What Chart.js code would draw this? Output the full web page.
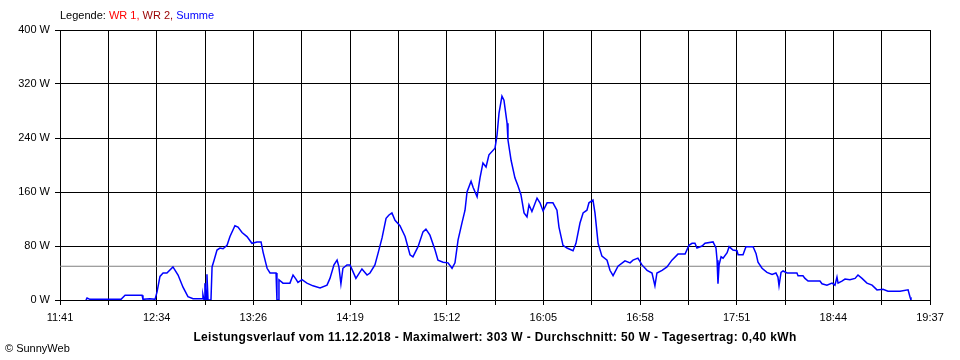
<!DOCTYPE html>
<html>
<head>
<meta charset="utf-8">
<script src="https://cdn.jsdelivr.net/npm/chart.js@4.4.0/dist/chart.umd.min.js"></script>
<style>
  body { margin: 0; background: #fff; }
  #wrap { position: relative; width: 960px; height: 360px; font-family: "Liberation Sans", Arial, sans-serif; font-size: 11px; color: #000; }
  #chart-box { position: absolute; left: 0; top: 0; width: 960px; height: 360px; }
  .legend { position: absolute; left: 60px; top: 9px; }
  .title { position: absolute; left: 60px; width: 870px; top: 330px; text-align: center; font-weight: bold; font-size: 12px; letter-spacing: 0.35px; }
  .copy { position: absolute; left: 5px; top: 342px; }
</style>
</head>
<body>
<div id="wrap">
  <div id="chart-box"><canvas id="powerChart"></canvas></div>
  <div class="legend">Legende: <span style="color:#ff0000">WR 1,</span> <span style="color:#990000">WR 2,</span> <span style="color:#0000ff">Summe</span></div>
  <div class="title">Leistungsverlauf vom 11.12.2018 - Maximalwert: 303 W - Durchschnitt: 50 W - Tagesertrag: 0,40 kWh</div>
  <div class="copy">© SunnyWeb</div>
</div>
<script>
// x axis: minutes after 11:41, full day window is 476 min (11:41 - 19:37)
const timeLabels = ['11:41', '12:34', '13:26', '14:19', '15:12', '16:05', '16:58', '17:51', '18:44', '19:37'];
const spanMinutes = 476;
const yTicks = [0, 80, 160, 240, 320, 400];
const averageWatt = 50;

// Summe (W) sampled off the plot
const minutes = [
  14.2, 14.8, 16.4, 21.9, 33.4, 35.6, 44.9, 45.4, 49.2, 52.0,
  53.1, 54.7, 56.4, 58.5, 61.8, 64.6, 67.3, 70.0, 72.8, 77.7,
  78.2, 78.8, 79.3, 79.9, 80.4, 81.0, 82.6, 83.2, 84.3, 85.9,
  87.5, 89.2, 91.4, 93.0, 95.7, 97.4, 99.6, 102.3, 105.0, 107.8,
  110.0, 111.1, 113.3, 114.9, 118.2, 118.7, 119.3, 119.8, 122.0, 125.8,
  127.5, 129.1, 130.2, 132.4, 135.1, 138.4, 142.3, 146.1, 147.7, 149.9,
  151.6, 152.6, 153.7, 154.8, 157.0, 158.7, 160.3, 161.9, 165.2, 168.0,
  169.6, 172.3, 174.0, 176.2, 178.4, 180.0, 181.6, 183.3, 186.0, 188.8,
  191.5, 193.1, 195.9, 198.6, 200.2, 202.4, 205.2, 206.8, 209.6, 212.3,
  214.5, 216.1, 217.8, 219.9, 221.6, 222.7, 224.9, 226.0, 228.2, 229.8,
  231.4, 233.1, 234.7, 238.0, 239.1, 240.2, 241.8, 242.9, 244.6, 245.1,
  246.8, 248.9, 250.6, 252.2, 253.9, 255.5, 256.6, 258.2, 261.0, 262.6,
  264.3, 266.5, 269.7, 271.9, 273.0, 275.2, 277.4, 280.7, 282.3, 284.5,
  286.2, 288.3, 289.4, 291.6, 292.7, 294.4, 296.5, 299.3, 300.9, 302.6,
  305.3, 309.1, 311.9, 313.5, 316.2, 318.4, 321.2, 323.9, 325.5, 326.6,
  329.4, 332.1, 334.8, 338.1, 342.0, 344.1, 345.8, 347.4, 348.5, 351.3,
  352.9, 357.3, 358.9, 359.5, 360.0, 360.6, 361.7, 362.8, 365.0, 366.1,
  368.2, 370.4, 371.0, 373.7, 375.3, 379.2, 380.8, 381.9, 384.1, 386.8,
  389.6, 391.7, 392.8, 393.4, 394.5, 395.6, 397.8, 403.2, 403.8, 406.5,
  407.6, 409.3, 415.8, 416.9, 419.6, 422.4, 424.0, 425.1, 425.7, 427.8,
  429.5, 432.2, 435.0, 436.6, 438.8, 441.5, 444.3, 447.0, 450.3, 453.0,
  459.6, 464.0, 465.1, 465.6
];
const watts = [
  0, 3, 1, 1, 1, 7, 7, 1, 2, 1,
  12, 35, 40, 40, 49, 37, 19, 5, 2, 2,
  8, 0, 25, 0, 38, 0, 0, 49, 59, 74,
  77, 76, 81, 94, 110, 108, 100, 94, 84, 86,
  86, 71, 47, 40, 40, 0, 0, 30, 25, 25,
  37, 31, 26, 30, 25, 21, 18, 22, 32, 52,
  59, 49, 24, 47, 52, 52, 42, 32, 46, 37,
  40, 52, 69, 92, 121, 126, 129, 118, 110, 94,
  67, 64, 79, 101, 105, 96, 74, 59, 56, 55,
  47, 55, 89, 114, 133, 160, 176, 167, 153, 181,
  203, 197, 215, 225, 244, 277, 302, 296, 262, 237,
  207, 181, 169, 156, 129, 123, 141, 131, 151, 144,
  132, 144, 144, 133, 108, 81, 77, 73, 84, 114,
  129, 133, 144, 148, 129, 84, 65, 59, 44, 36,
  50, 58, 55, 59, 62, 52, 44, 40, 21, 40,
  44, 49, 59, 68, 68, 81, 84, 84, 77, 80,
  84, 86, 77, 59, 24, 52, 64, 62, 70, 79,
  74, 73, 67, 67, 79, 79, 69, 56, 47, 41,
  38, 40, 34, 21, 41, 43, 40, 40, 36, 36,
  32, 28, 28, 24, 22, 25, 22, 34, 25, 28,
  31, 30, 32, 37, 32, 25, 22, 15, 16, 13,
  13, 15, 4, 0
];

const ctx = document.getElementById('powerChart');
new Chart(ctx, {
  type: 'line',
  data: {
    datasets: [
      {
        label: 'Summe',
        data: minutes.map((m, i) => ({ x: m, y: watts[i] })),
        borderColor: '#0000ff', borderWidth: 1.5, pointRadius: 0, fill: false, tension: 0, order: 1,
      },
      {
        label: 'Durchschnitt',
        data: [{ x: 0, y: averageWatt }, { x: spanMinutes, y: averageWatt }],
        borderColor: '#808080', borderWidth: 1, pointRadius: 0, fill: false, order: 2,
      },
    ],
  },
  options: {
    responsive: true, maintainAspectRatio: false, animation: false,
    layout: { padding: { top: 30, right: 30, left: 0, bottom: 0 } },
    plugins: { legend: { display: false }, tooltip: { enabled: false } },
    scales: {
      x: {
        type: 'linear', min: 0, max: spanMinutes,
        afterBuildTicks: s => { s.ticks = Array.from({ length: 19 }, (_, i) => ({ value: i * spanMinutes / 18 })); },
        afterFit: s => { s.height = 60; },
        grid: { color: '#000', lineWidth: 1, tickLength: 5, drawTicks: true },
        border: { color: '#000', width: 1 },
        ticks: {
          autoSkip: false, maxRotation: 0, color: '#000', padding: 6,
          font: { family: 'Liberation Sans', size: 11 },
          callback: (v, i) => (i % 2 === 0 ? timeLabels[i / 2] : ''),
        },
      },
      y: {
        min: 0, max: 400,
        afterBuildTicks: s => { s.ticks = yTicks.map(v => ({ value: v })); },
        afterFit: s => { s.width = 60; },
        grid: { color: '#000', lineWidth: 1, tickLength: 5 },
        border: { color: '#000', width: 1 },
        ticks: {
          color: '#000', padding: 5,
          font: { family: 'Liberation Sans', size: 11 },
          callback: v => v + ' W',
        },
      },
    },
  },
});
</script>
</body>
</html>
